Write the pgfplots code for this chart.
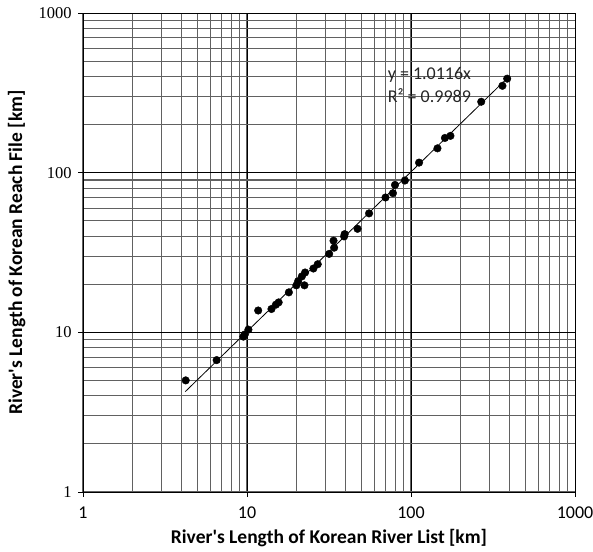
\documentclass[border=0pt]{standalone}
\usepackage{pgfplots}
\pgfplotsset{compat=1.18}
\usepackage{fontspec}
\setmainfont{Carlito}[Ligatures=TeXOff]
\newfontfamily\serifnum{Liberation Serif}
\begin{document}
\begin{tikzpicture}
\useasboundingbox (-83bp,-60bp) rectangle (510bp,492bp);
\begin{axis}[
  scale only axis,
  width=492bp, height=479bp,
  xmode=log, ymode=log,
  xmin=1, xmax=1000, ymin=1, ymax=1000,
  xtick={1,10,100,1000}, ytick={1,10,100,1000},
  xticklabels={1,10,100,1000}, yticklabels={1,10,100,1000},
  /pgf/number format/assume math mode=true,
  tick pos=left, tick align=outside,
  major tick length=5bp, minor tick length=0pt,
  tick style={black, line width=0.8bp},
  grid=both,
  major grid style={black, line width=0.9bp},
  minor grid style={black!62, line width=1.1bp},
  axis line style={black, line width=0.9bp},
  xticklabel style={font=\fontsize{18bp}{21bp}\selectfont, yshift=-6bp},
  yticklabel style={font=\serifnum\fontsize{16.5bp}{19bp}\selectfont, xshift=-3bp},
  xlabel={River's Length of Korean River List [km]},
  ylabel={River's Length of Korean Reach File  [km]},
  xlabel style={font=\bfseries\fontsize{19.5bp}{22bp}\selectfont, at={(axis description cs:0.5,-0.096)}, anchor=center},
  ylabel style={font=\bfseries\fontsize{19.5bp}{22bp}\selectfont, at={(axis description cs:-0.135,0.5)}, anchor=center},
  clip=false,
]
\addplot[black, line width=0.8bp, no marks] coordinates {(4.2,4.249) (390,394.5)};
\addplot[only marks, mark=*, mark size=3.8bp, black] coordinates {
(4.23,5.0) (6.53,6.7) (9.5,9.4) (9.7,9.7) (10.2,10.4)
(11.7,13.7) (14.1,14.0) (15.0,14.9) (15.6,15.4) (18.0,17.8)
(20.0,19.7) (20.5,20.9) (21.6,22.4) (22.6,23.7) (22.4,19.7)
(25.4,25.1) (27.0,26.7) (31.7,31.0) (34.0,33.9) (33.7,37.5)
(39.1,39.9) (39.4,41.2) (47.2,44.5) (55.5,55.6) (69.9,69.9)
(77.6,74.4) (79.9,83.8) (91.8,89.3) (112,115.6) (145,142)
(161,165) (174,170) (268,278) (361,350) (386,388)
};
\node[anchor=west, inner sep=0pt, font=\fontsize{18bp}{21bp}\selectfont, text=black!85] at (axis cs:72,408) {y = 1.0116x};
\node[anchor=west, inner sep=0pt, font=\fontsize{18bp}{21bp}\selectfont, text=black!85] at (axis cs:72,302) {R² = 0.9989};
\end{axis}
\end{tikzpicture}
\end{document}
